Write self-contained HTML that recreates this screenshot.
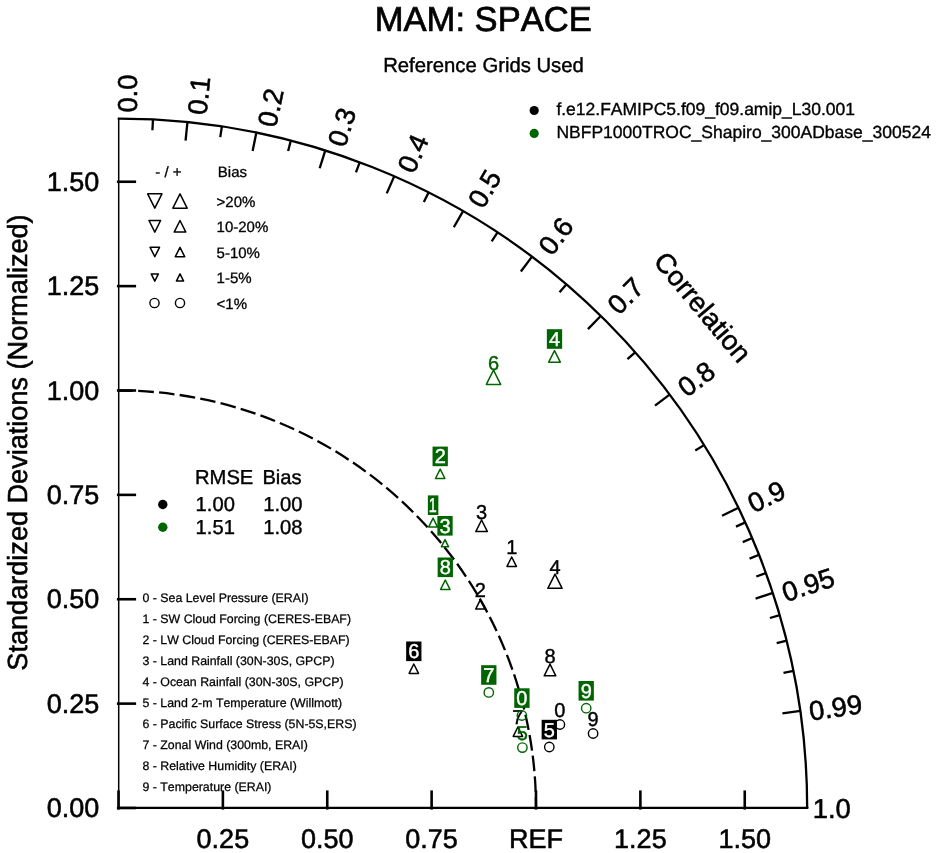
<!DOCTYPE html>
<html><head><meta charset="utf-8"><title>MAM: SPACE</title>
<style>
html,body{margin:0;padding:0;background:#fff;}
svg{display:block;font-family:'Liberation Sans', sans-serif;font-kerning:none;text-rendering:geometricPrecision;}
</style></head>
<body>
<svg width="937" height="853" viewBox="0 0 937 853">
<rect width="937" height="853" fill="#fff"/>
<text x="483.30" y="30.80" font-size="34.6" text-anchor="middle" fill="#000" stroke="#000" stroke-width="0.69">MAM: SPACE</text>
<text x="483.50" y="71.50" font-size="20.3" text-anchor="middle" fill="#000" stroke="#000" stroke-width="0.41">Reference Grids Used</text>
<circle cx="534.2" cy="110.5" r="4.6" fill="#000"/>
<circle cx="534.2" cy="133.4" r="4.6" fill="#006400"/>
<text x="556.40" y="115.40" font-size="17.5" text-anchor="start" fill="#000" stroke="#000" stroke-width="0.35">f.e12.FAMIPC5.f09_f09.amip_L30.001</text>
<text x="556.40" y="138.40" font-size="17.5" text-anchor="start" fill="#000" stroke="#000" stroke-width="0.35">NBFP1000TROC_Shapiro_300ADbase_300524</text>
<g stroke="#000" stroke-width="2.3" fill="none" stroke-linecap="butt">
<path d="M807.17,808.00 A688.67,689.38 0 0 0 118.50,118.62 l-0.8,0"/>
<path d="M118.70,118.12 L118.70,809.10" stroke-width="1.5"/>
<path d="M118.00,807.90 L808.38,807.90" stroke-width="2.3"/>
<path d="M118.50,809.60 L118.50,790.40" stroke-width="2.6"/>
<path d="M116.90,808.00 L136.10,808.00" stroke-width="2.6"/>
<path d="M222.88,809.60 L222.88,790.40" stroke-width="2.6"/>
<path d="M116.90,703.62 L136.10,703.62" stroke-width="2.6"/>
<path d="M327.25,809.60 L327.25,790.40" stroke-width="2.6"/>
<path d="M116.90,599.25 L136.10,599.25" stroke-width="2.6"/>
<path d="M431.62,809.60 L431.62,790.40" stroke-width="2.6"/>
<path d="M116.90,494.88 L136.10,494.88" stroke-width="2.6"/>
<path d="M536.00,809.60 L536.00,790.40" stroke-width="2.6"/>
<path d="M116.90,390.50 L136.10,390.50" stroke-width="2.6"/>
<path d="M640.38,809.60 L640.38,790.40" stroke-width="2.6"/>
<path d="M116.90,286.12 L136.10,286.12" stroke-width="2.6"/>
<path d="M744.75,809.60 L744.75,790.40" stroke-width="2.6"/>
<path d="M116.90,181.75 L136.10,181.75" stroke-width="2.6"/>
<path d="M187.39,122.58 L185.56,140.74"/>
<path d="M256.27,133.04 L252.62,150.93"/>
<path d="M325.16,150.86 L319.69,168.27"/>
<path d="M394.05,176.64 L386.75,193.37"/>
<path d="M462.94,211.42 L453.81,227.23"/>
<path d="M531.82,256.90 L520.87,271.50"/>
<path d="M600.71,316.04 L587.93,329.08"/>
<path d="M669.60,394.68 L655.00,405.63"/>
<path d="M738.49,507.73 L722.06,515.68"/>
<path d="M772.93,592.90 L755.59,598.60"/>
<path d="M800.49,710.82 L782.41,713.40"/>
<path d="M152.94,119.99 L152.43,130.31"/>
<path d="M221.83,126.92 L220.28,137.14"/>
<path d="M290.72,141.00 L288.14,151.00"/>
<path d="M359.61,162.70 L355.99,172.38"/>
<path d="M428.49,192.81 L423.84,202.04"/>
<path d="M497.38,232.68 L491.70,241.31"/>
<path d="M566.27,284.50 L559.55,292.35"/>
<path d="M635.16,352.35 L627.41,359.19"/>
<path d="M704.04,445.11 L695.26,450.56"/>
<path d="M745.38,522.39 L735.97,526.67"/>
<path d="M752.26,538.02 L742.76,542.07"/>
<path d="M759.15,554.80 L749.54,558.60"/>
<path d="M766.04,572.97 L756.33,576.50"/>
<path d="M779.82,615.11 L769.90,618.01"/>
<path d="M786.71,640.53 L776.69,643.04"/>
<path d="M793.60,670.92 L783.47,672.97"/>
<path d="M118.50,390.50 A417.50,417.50 0 0 1 536.00,808.00" stroke-width="2.3" stroke-dasharray="15.6 5.23" stroke-dashoffset="1"/>
</g>
<text x="99.40" y="817.20" font-size="27.0" text-anchor="end" fill="#000" stroke="#000" stroke-width="0.54">0.00</text>
<text x="99.40" y="712.83" font-size="27.0" text-anchor="end" fill="#000" stroke="#000" stroke-width="0.54">0.25</text>
<text x="99.40" y="608.45" font-size="27.0" text-anchor="end" fill="#000" stroke="#000" stroke-width="0.54">0.50</text>
<text x="99.40" y="504.07" font-size="27.0" text-anchor="end" fill="#000" stroke="#000" stroke-width="0.54">0.75</text>
<text x="99.40" y="399.70" font-size="27.0" text-anchor="end" fill="#000" stroke="#000" stroke-width="0.54">1.00</text>
<text x="99.40" y="295.32" font-size="27.0" text-anchor="end" fill="#000" stroke="#000" stroke-width="0.54">1.25</text>
<text x="99.40" y="190.95" font-size="27.0" text-anchor="end" fill="#000" stroke="#000" stroke-width="0.54">1.50</text>
<text x="222.88" y="848.20" font-size="27.0" text-anchor="middle" fill="#000" stroke="#000" stroke-width="0.54">0.25</text>
<text x="327.25" y="848.20" font-size="27.0" text-anchor="middle" fill="#000" stroke="#000" stroke-width="0.54">0.50</text>
<text x="431.62" y="848.20" font-size="27.0" text-anchor="middle" fill="#000" stroke="#000" stroke-width="0.54">0.75</text>
<text x="536.00" y="848.20" font-size="27.0" text-anchor="middle" fill="#000" stroke="#000" stroke-width="0.54">REF</text>
<text x="640.38" y="848.20" font-size="27.0" text-anchor="middle" fill="#000" stroke="#000" stroke-width="0.54">1.25</text>
<text x="744.75" y="848.20" font-size="27.0" text-anchor="middle" fill="#000" stroke="#000" stroke-width="0.54">1.50</text>
<text transform="translate(26.9,442.5) rotate(-90) scale(1,1.02)" font-size="27.1" text-anchor="middle" stroke="#000" stroke-width="0.54">Standardized Deviations (Normalized)</text>
<text transform="translate(127.50,112.62) rotate(-90.00)" font-size="27.4" stroke="#000" stroke-width="0.55" x="0" y="9.6">0.0</text>
<text transform="translate(196.87,114.62) rotate(-84.26)" font-size="27.4" stroke="#000" stroke-width="0.55" x="0" y="9.6">0.1</text>
<text transform="translate(266.67,126.24) rotate(-78.46)" font-size="27.4" stroke="#000" stroke-width="0.55" x="0" y="9.6">0.2</text>
<text transform="translate(335.96,145.26) rotate(-72.54)" font-size="27.4" stroke="#000" stroke-width="0.55" x="0" y="9.6">0.3</text>
<text transform="translate(405.25,170.84) rotate(-66.42)" font-size="27.4" stroke="#000" stroke-width="0.55" x="0" y="9.6">0.4</text>
<text transform="translate(474.94,205.22) rotate(-60.00)" font-size="27.4" stroke="#000" stroke-width="0.55" x="0" y="9.6">0.5</text>
<text transform="translate(544.42,251.20) rotate(-53.13)" font-size="27.4" stroke="#000" stroke-width="0.55" x="0" y="9.6">0.6</text>
<text transform="translate(612.21,309.34) rotate(-45.57)" font-size="27.4" stroke="#000" stroke-width="0.55" x="0" y="9.6">0.7</text>
<text transform="translate(681.00,390.38) rotate(-36.87)" font-size="27.4" stroke="#000" stroke-width="0.55" x="0" y="9.6">0.8</text>
<text transform="translate(749.29,504.73) rotate(-25.84)" font-size="27.4" stroke="#000" stroke-width="0.55" x="0" y="9.6">0.9</text>
<text transform="translate(782.83,593.00) rotate(-18.19)" font-size="27.4" stroke="#000" stroke-width="0.55" x="0" y="9.6">0.95</text>
<text transform="translate(809.09,711.22) rotate(-8.11)" font-size="27.4" stroke="#000" stroke-width="0.55" x="0" y="9.6">0.99</text>
<text transform="translate(812.77,808.00) rotate(-0.00)" font-size="27.4" stroke="#000" stroke-width="0.55" x="0" y="9.6">1.0</text>
<text transform="translate(702.8,307.0) rotate(50)" font-size="27.4" stroke="#000" stroke-width="0.55" text-anchor="middle" x="0" y="9.6">Correlation</text>
<text x="155.30" y="177.40" font-size="15" text-anchor="start" fill="#000" stroke="#000" stroke-width="0.30">- / +</text>
<text x="217.80" y="176.80" font-size="15" text-anchor="start" fill="#000" stroke="#000" stroke-width="0.30">Bias</text>
<path d="M147.65,193.85 L161.95,193.85 L154.80,208.15 Z" fill="none" stroke="#000" stroke-width="1.5" stroke-linejoin="round"/>
<path d="M172.85,208.15 L187.15,208.15 L180.00,193.85 Z" fill="none" stroke="#000" stroke-width="1.5" stroke-linejoin="round"/>
<text x="216.60" y="206.60" font-size="15" text-anchor="start" fill="#000" stroke="#000" stroke-width="0.30">&gt;20%</text>
<path d="M149.00,220.50 L160.60,220.50 L154.80,232.10 Z" fill="none" stroke="#000" stroke-width="1.5" stroke-linejoin="round"/>
<path d="M174.20,232.10 L185.80,232.10 L180.00,220.50 Z" fill="none" stroke="#000" stroke-width="1.5" stroke-linejoin="round"/>
<text x="216.60" y="231.90" font-size="15" text-anchor="start" fill="#000" stroke="#000" stroke-width="0.30">10-20%</text>
<path d="M150.10,247.30 L159.50,247.30 L154.80,256.70 Z" fill="none" stroke="#000" stroke-width="1.5" stroke-linejoin="round"/>
<path d="M175.30,256.70 L184.70,256.70 L180.00,247.30 Z" fill="none" stroke="#000" stroke-width="1.5" stroke-linejoin="round"/>
<text x="216.60" y="257.60" font-size="15" text-anchor="start" fill="#000" stroke="#000" stroke-width="0.30">5-10%</text>
<path d="M151.20,273.90 L158.40,273.90 L154.80,281.10 Z" fill="none" stroke="#000" stroke-width="1.5" stroke-linejoin="round"/>
<path d="M176.40,281.10 L183.60,281.10 L180.00,273.90 Z" fill="none" stroke="#000" stroke-width="1.5" stroke-linejoin="round"/>
<text x="216.60" y="283.10" font-size="15" text-anchor="start" fill="#000" stroke="#000" stroke-width="0.30">1-5%</text>
<circle cx="154.50" cy="303.00" r="4.60" fill="none" stroke="#000" stroke-width="1.4"/>
<circle cx="180.00" cy="303.00" r="4.60" fill="none" stroke="#000" stroke-width="1.4"/>
<text x="216.60" y="308.60" font-size="15" text-anchor="start" fill="#000" stroke="#000" stroke-width="0.30">&lt;1%</text>
<text x="195.00" y="483.70" font-size="20.2" text-anchor="start" fill="#000" stroke="#000" stroke-width="0.40">RMSE</text>
<text x="262.40" y="483.70" font-size="20.2" text-anchor="start" fill="#000" stroke="#000" stroke-width="0.40">Bias</text>
<circle cx="162.8" cy="504.5" r="4.7" fill="#000"/>
<circle cx="162.8" cy="527.2" r="4.7" fill="#006400"/>
<text x="195.60" y="511.20" font-size="20.2" text-anchor="start" fill="#000" stroke="#000" stroke-width="0.40">1.00</text>
<text x="263.20" y="511.20" font-size="20.2" text-anchor="start" fill="#000" stroke="#000" stroke-width="0.40">1.00</text>
<text x="195.60" y="534.20" font-size="20.2" text-anchor="start" fill="#000" stroke="#000" stroke-width="0.40">1.51</text>
<text x="263.20" y="534.20" font-size="20.2" text-anchor="start" fill="#000" stroke="#000" stroke-width="0.40">1.08</text>
<text x="142.50" y="602.40" font-size="12.35" text-anchor="start" fill="#000" stroke="#000" stroke-width="0.25">0 - Sea Level Pressure (ERAI)</text>
<text x="142.50" y="623.32" font-size="12.35" text-anchor="start" fill="#000" stroke="#000" stroke-width="0.25">1 - SW Cloud Forcing (CERES-EBAF)</text>
<text x="142.50" y="644.24" font-size="12.35" text-anchor="start" fill="#000" stroke="#000" stroke-width="0.25">2 - LW Cloud Forcing (CERES-EBAF)</text>
<text x="142.50" y="665.16" font-size="12.35" text-anchor="start" fill="#000" stroke="#000" stroke-width="0.25">3 - Land Rainfall (30N-30S, GPCP)</text>
<text x="142.50" y="686.08" font-size="12.35" text-anchor="start" fill="#000" stroke="#000" stroke-width="0.25">4 - Ocean Rainfall (30N-30S, GPCP)</text>
<text x="142.50" y="707.00" font-size="12.35" text-anchor="start" fill="#000" stroke="#000" stroke-width="0.25">5 - Land 2-m Temperature (Willmott)</text>
<text x="142.50" y="727.92" font-size="12.35" text-anchor="start" fill="#000" stroke="#000" stroke-width="0.25">6 - Pacific Surface Stress (5N-5S,ERS)</text>
<text x="142.50" y="748.84" font-size="12.35" text-anchor="start" fill="#000" stroke="#000" stroke-width="0.25">7 - Zonal Wind (300mb, ERAI)</text>
<text x="142.50" y="769.76" font-size="12.35" text-anchor="start" fill="#000" stroke="#000" stroke-width="0.25">8 - Relative Humidity (ERAI)</text>
<text x="142.50" y="790.68" font-size="12.35" text-anchor="start" fill="#000" stroke="#000" stroke-width="0.25">9 - Temperature (ERAI)</text>
<circle cx="559.90" cy="724.50" r="4.70" fill="none" stroke="#000" stroke-width="1.4"/>
<text x="559.90" y="717.25" font-size="20" text-anchor="middle" fill="#000" stroke="#000" stroke-width="0.40">0</text>
<path d="M507.00,566.40 L516.40,566.40 L511.70,557.00 Z" fill="none" stroke="#000" stroke-width="1.5" stroke-linejoin="round"/>
<text x="511.70" y="554.45" font-size="20" text-anchor="middle" fill="#000" stroke="#000" stroke-width="0.40">1</text>
<path d="M475.70,609.10 L485.10,609.10 L480.40,599.70 Z" fill="none" stroke="#000" stroke-width="1.5" stroke-linejoin="round"/>
<text x="480.40" y="597.15" font-size="20" text-anchor="middle" fill="#000" stroke="#000" stroke-width="0.40">2</text>
<path d="M475.80,531.60 L487.40,531.60 L481.60,520.00 Z" fill="none" stroke="#000" stroke-width="1.5" stroke-linejoin="round"/>
<text x="481.60" y="518.55" font-size="20" text-anchor="middle" fill="#000" stroke="#000" stroke-width="0.40">3</text>
<path d="M547.85,588.35 L562.15,588.35 L555.00,574.05 Z" fill="none" stroke="#000" stroke-width="1.5" stroke-linejoin="round"/>
<text x="555.00" y="573.95" font-size="20" text-anchor="middle" fill="#000" stroke="#000" stroke-width="0.40">4</text>
<circle cx="549.30" cy="747.00" r="4.70" fill="none" stroke="#000" stroke-width="1.4"/>
<rect x="541.65" y="719.80" width="15.30" height="19.60" fill="#000"/>
<text x="549.30" y="736.65" font-size="20" text-anchor="middle" fill="#fff" stroke="#fff" stroke-width="0.40">5</text>
<path d="M409.10,673.40 L418.50,673.40 L413.80,664.00 Z" fill="none" stroke="#000" stroke-width="1.5" stroke-linejoin="round"/>
<rect x="406.15" y="641.50" width="15.30" height="19.60" fill="#000"/>
<text x="413.80" y="658.35" font-size="20" text-anchor="middle" fill="#fff" stroke="#fff" stroke-width="0.40">6</text>
<path d="M513.20,736.40 L522.60,736.40 L517.90,727.00 Z" fill="none" stroke="#000" stroke-width="1.5" stroke-linejoin="round"/>
<text x="517.90" y="724.45" font-size="20" text-anchor="middle" fill="#000" stroke="#000" stroke-width="0.40">7</text>
<path d="M544.20,675.80 L555.80,675.80 L550.00,664.20 Z" fill="none" stroke="#000" stroke-width="1.5" stroke-linejoin="round"/>
<text x="550.00" y="662.75" font-size="20" text-anchor="middle" fill="#000" stroke="#000" stroke-width="0.40">8</text>
<circle cx="593.10" cy="733.50" r="4.70" fill="none" stroke="#000" stroke-width="1.4"/>
<text x="593.10" y="726.25" font-size="20" text-anchor="middle" fill="#000" stroke="#000" stroke-width="0.40">9</text>
<circle cx="521.90" cy="715.50" r="4.70" fill="none" stroke="#006400" stroke-width="1.4"/>
<rect x="514.25" y="688.30" width="15.30" height="19.60" fill="#006400"/>
<text x="521.90" y="705.15" font-size="20" text-anchor="middle" fill="#fff" stroke="#fff" stroke-width="0.40">0</text>
<path d="M428.60,527.10 L437.60,527.10 L433.10,518.10 Z" fill="none" stroke="#006400" stroke-width="1.5" stroke-linejoin="round"/>
<rect x="427.85" y="495.40" width="10.50" height="19.60" fill="#006400"/>
<text transform="translate(432.70,512.25) scale(0.72,1)" font-size="20" text-anchor="middle" fill="#fff" stroke="#fff" stroke-width="0.40">1</text>
<path d="M435.50,478.50 L444.90,478.50 L440.20,469.10 Z" fill="none" stroke="#006400" stroke-width="1.5" stroke-linejoin="round"/>
<rect x="432.55" y="446.60" width="15.30" height="19.60" fill="#006400"/>
<text x="440.20" y="463.45" font-size="20" text-anchor="middle" fill="#fff" stroke="#fff" stroke-width="0.40">2</text>
<path d="M441.40,546.80 L448.60,546.80 L445.00,539.60 Z" fill="none" stroke="#006400" stroke-width="1.5" stroke-linejoin="round"/>
<rect x="437.35" y="516.00" width="15.30" height="19.60" fill="#006400"/>
<text x="445.00" y="532.85" font-size="20" text-anchor="middle" fill="#fff" stroke="#fff" stroke-width="0.40">3</text>
<path d="M548.70,362.20 L560.30,362.20 L554.50,350.60 Z" fill="none" stroke="#006400" stroke-width="1.5" stroke-linejoin="round"/>
<rect x="546.85" y="329.20" width="15.30" height="19.60" fill="#006400"/>
<text x="554.50" y="346.05" font-size="20" text-anchor="middle" fill="#fff" stroke="#fff" stroke-width="0.40">4</text>
<circle cx="522.40" cy="747.60" r="4.70" fill="none" stroke="#006400" stroke-width="1.4"/>
<text x="522.40" y="740.35" font-size="20" text-anchor="middle" fill="#006400" stroke="#006400" stroke-width="0.40">5</text>
<path d="M486.35,384.45 L500.65,384.45 L493.50,370.15 Z" fill="none" stroke="#006400" stroke-width="1.5" stroke-linejoin="round"/>
<text x="493.50" y="370.05" font-size="20" text-anchor="middle" fill="#006400" stroke="#006400" stroke-width="0.40">6</text>
<circle cx="488.80" cy="692.40" r="4.70" fill="none" stroke="#006400" stroke-width="1.4"/>
<rect x="481.15" y="665.20" width="15.30" height="19.60" fill="#006400"/>
<text x="488.80" y="682.05" font-size="20" text-anchor="middle" fill="#fff" stroke="#fff" stroke-width="0.40">7</text>
<path d="M440.60,589.40 L450.00,589.40 L445.30,580.00 Z" fill="none" stroke="#006400" stroke-width="1.5" stroke-linejoin="round"/>
<rect x="437.65" y="557.50" width="15.30" height="19.60" fill="#006400"/>
<text x="445.30" y="574.35" font-size="20" text-anchor="middle" fill="#fff" stroke="#fff" stroke-width="0.40">8</text>
<circle cx="586.20" cy="708.20" r="4.70" fill="none" stroke="#006400" stroke-width="1.4"/>
<rect x="578.55" y="681.00" width="15.30" height="19.60" fill="#006400"/>
<text x="586.20" y="697.85" font-size="20" text-anchor="middle" fill="#fff" stroke="#fff" stroke-width="0.40">9</text>
</svg>
</body></html>
